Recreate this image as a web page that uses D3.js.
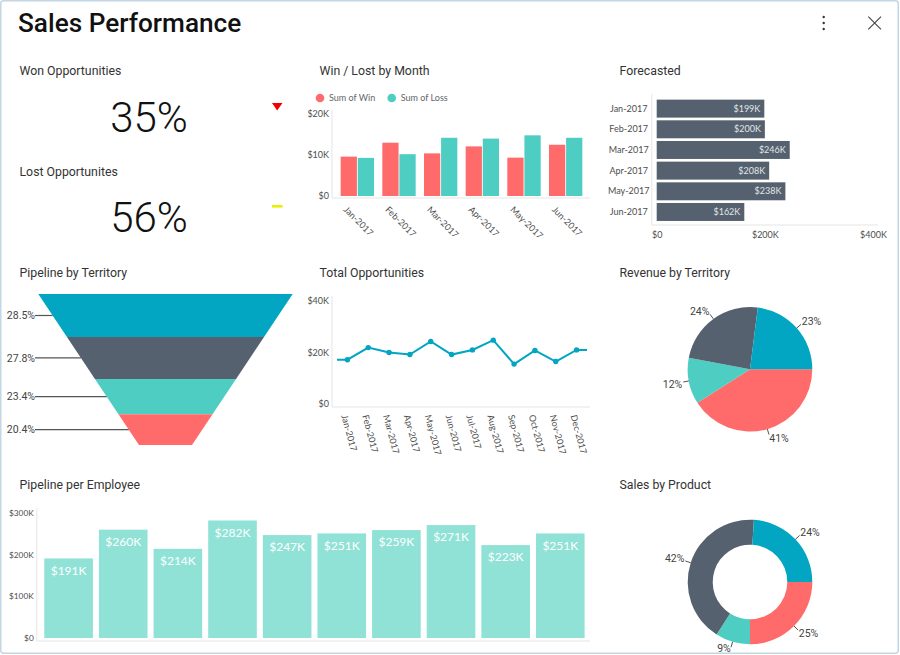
<!DOCTYPE html>
<html>
<head>
<meta charset="utf-8">
<script src="https://cdn.jsdelivr.net/npm/d3@7"></script>
<style>
  html, body { margin: 0; padding: 0; background: #fff; }
  svg { display: block; }
  text { font-family: Lato, sans-serif; fill: #4d4d4d; }
  .title { font-family: Roboto, sans-serif; font-size: 12.3px; fill: #333; }
  .tick text { font-size: 9px; }
  .pct { font-family: Roboto, sans-serif; font-size: 10.5px; fill: #444; }
</style>
</head>
<body>
<div id="chart"></div>
<script>
// colours used by the dashboard
let blue = "#02a5c2";
let grey = "#55616f";
let teal = "#4ecdc3";
let red = "#ff6b6b";
let paleTeal = "#90e2d6";
let axisColor = "#eeeeee";

// KPI cards
let kpiTitles = ["Won Opportunities", "Lost Opportunites"];
let kpiValues = ["35%", "56%"];

// Win / Lost by Month (values in $K)
let winMonths = ["Jan-2017", "Feb-2017", "Mar-2017", "Apr-2017", "May-2017", "Jun-2017"];
let winValues = [9.6, 13, 10.4, 12.1, 9.35, 12.5];
let lossValues = [9.3, 10.2, 14.2, 14, 14.8, 14.2];
let winTicks = [0, 10, 20];

// Forecasted (values in $K)
let forecastValues = [199, 200, 246, 208, 238, 162];
let forecastTicks = [0, 200, 400];

// Pipeline by Territory
let funnelValues = [28.5, 27.8, 23.4, 20.4];

// Total Opportunities (values in $K)
let totalMonths = ["Jan-2017", "Feb-2017", "Mar-2017", "Apr-2017", "May-2017", "Jun-2017",
  "Jul-2017", "Aug-2017", "Sep-2017", "Oct-2017", "Nov-2017", "Dec-2017"];
let totalValues = [17.2, 21.9, 20, 19.2, 24.3, 19.2, 21, 24.8, 15.5, 20.8, 16.5, 21];
let totalTicks = [0, 20, 40];

// Revenue by Territory, clockwise from 3 o'clock
let revenueValues = [41, 12, 24, 23];

// Pipeline per Employee (values in $K)
let employees = ["e1", "e2", "e3", "e4", "e5", "e6", "e7", "e8", "e9", "e10"];
let employeeValues = [191, 260, 214, 282, 247, 251, 259, 271, 223, 251];
let employeeTicks = [0, 100, 200, 300];

// Sales by Product, clockwise from 3 o'clock
let productValues = [25, 9, 42, 24];

let pieColors = [red, teal, grey, blue];
let money = d => d === 0 ? "$0" : `$${d}K`;

let svg = d3.select("#chart").append("svg")
  .attr("width", 900)
  .attr("height", 655);

// window frame
svg.append("rect")
  .attr("x", 0.75).attr("y", 0.75)
  .attr("width", 897.5).attr("height", 652.5)
  .attr("rx", 3)
  .attr("fill", "#fff")
  .attr("stroke", "#c4d6e4")
  .attr("stroke-width", 1.5);

svg.append("text")
  .attr("x", 18).attr("y", 32)
  .style("font-family", "Roboto, sans-serif")
  .style("font-weight", 500)
  .style("font-size", "26.2px")
  .style("fill", "#111")
  .text("Sales Performance");

// menu dots and close icon
d3.range(3).forEach(i => {
  svg.append("circle").attr("cx", 823.7).attr("cy", 17 + i * 6).attr("r", 1.2).attr("fill", "#333");
});
svg.append("path")
  .attr("d", "M868.3,16.7L881,29.3M881,16.7L868.3,29.3")
  .attr("stroke", "#444").attr("stroke-width", 1.1).attr("fill", "none");

function cardTitle(x, y, label) {
  svg.append("text").attr("class", "title").attr("x", x).attr("y", y).text(label);
}

// style shared by all the axes: no ticks, a pale line instead of the domain
function cleanAxis(g) {
  g.select(".domain").remove();
  g.selectAll("line").remove();
}

function axisLine(x1, y1, x2, y2) {
  svg.append("line")
    .attr("x1", x1).attr("y1", y1).attr("x2", x2).attr("y2", y2)
    .attr("stroke", axisColor).attr("stroke-width", 1.5);
}

// ---- KPI cards ----
cardTitle(19.5, 75, kpiTitles[0]);
cardTitle(19.5, 176, kpiTitles[1]);
[[132, kpiValues[0]], [232, kpiValues[1]]].forEach(k => {
  svg.append("text")
    .attr("x", 149).attr("y", k[0])
    .attr("text-anchor", "middle")
    .style("font-family", "Roboto, sans-serif")
    .style("font-weight", 300)
    .style("font-size", "42px")
    .style("fill", "#111")
    .text(k[1]);
});
svg.append("path").attr("d", "M272,103H282.5L277.2,110.5Z").attr("fill", "#f00000");
svg.append("rect").attr("x", 272).attr("y", 205).attr("width", 10.5).attr("height", 2.6).attr("fill", "#e8f000");

// ---- Win / Lost by Month ----
cardTitle(319.5, 75, "Win / Lost by Month");

[["Sum of Win", red, 320], ["Sum of Loss", teal, 391.7]].forEach(l => {
  svg.append("circle").attr("cx", l[2]).attr("cy", 98).attr("r", 4.3).attr("fill", l[1]);
  svg.append("text").attr("x", l[2] + 9).attr("y", 101.2).style("font-size", "9px").style("fill", "#666").text(l[0]);
});

let winX = d3.scaleBand().domain(winMonths).range([336.5, 586.5]).paddingInner(0.2).paddingOuter(0.1);
let winInner = d3.scaleBand().domain(["win", "loss"]).range([0, winX.bandwidth()]).paddingInner(0.05);
let winY = d3.scaleLinear().domain([0, 20]).range([196, 114]);

axisLine(332, 110, 332, 198);
axisLine(332, 198, 590, 198);

svg.append("g")
  .attr("transform", "translate(332,0)")
  .call(d3.axisLeft(winY).tickValues(winTicks).tickFormat(money).tickSize(0).tickPadding(3))
  .call(cleanAxis);

svg.append("g")
  .attr("transform", "translate(0,198)")
  .call(d3.axisBottom(winX).tickSize(0))
  .call(cleanAxis)
  .selectAll("text")
  .attr("x", 0).attr("y", 0).attr("dy", ".35em")
  .attr("text-anchor", "start")
  .attr("transform", "translate(-12,10) rotate(45)");

[["win", winValues, red], ["loss", lossValues, teal]].forEach(s => {
  svg.append("g").selectAll("rect")
    .data(s[1])
    .enter()
    .append("rect")
    .attr("x", (d, i) => winX(winMonths[i]) + winInner(s[0]))
    .attr("y", d => winY(d))
    .attr("width", winInner.bandwidth())
    .attr("height", d => winY(0) - winY(d))
    .attr("fill", s[2]);
});

// ---- Forecasted ----
cardTitle(619.5, 75, "Forecasted");

let foreX = d3.scaleLinear().domain([0, 400]).range([656.7, 873]);
let foreY = d3.scaleBand().domain(winMonths).range([98.3, 222.3]).paddingInner(0.13).paddingOuter(0.065);

axisLine(651.7, 94, 651.7, 225);
axisLine(651.7, 225, 878, 225);

svg.append("g")
  .attr("transform", "translate(651.7,0)")
  .call(d3.axisLeft(foreY).tickSize(0))
  .call(cleanAxis)
  .selectAll("text")
  .attr("x", -23)
  .attr("text-anchor", "middle");

svg.append("g")
  .attr("transform", "translate(0,225)")
  .call(d3.axisBottom(foreX).tickValues(forecastTicks).tickFormat(money).tickSize(0).tickPadding(7))
  .call(cleanAxis);

svg.append("g").selectAll("rect")
  .data(forecastValues)
  .enter()
  .append("rect")
  .attr("x", foreX(0))
  .attr("y", (d, i) => foreY(winMonths[i]))
  .attr("width", d => foreX(d) - foreX(0))
  .attr("height", foreY.bandwidth())
  .attr("fill", grey);

svg.append("g").selectAll("text")
  .data(forecastValues)
  .enter()
  .append("text")
  .attr("x", d => foreX(d) - 4)
  .attr("y", (d, i) => foreY(winMonths[i]) + foreY.bandwidth() / 2)
  .attr("dy", ".35em")
  .attr("text-anchor", "end")
  .style("font-size", "9px")
  .style("fill", "#e2e5e8")
  .text(money);

// ---- Pipeline by Territory ----
cardTitle(19.5, 277, "Pipeline by Territory");

let funnelTotal = d3.sum(funnelValues);
let funnelY = d3.scaleLinear().domain([0, funnelTotal]).range([294, 445]);
let funnelW = d3.scaleLinear().domain([0, funnelTotal]).range([254.4, 53]);
let funnelMid = 165.5;
let funnelColors = [blue, grey, teal, red];
let trapezoid = d3.line();

let running = 0;
funnelValues.forEach((v, i) => {
  let a = running;
  let b = running + v;
  running = b;
  let left = s => funnelMid - funnelW(s) / 2;
  let right = s => funnelMid + funnelW(s) / 2;
  svg.append("path")
    .attr("d", trapezoid([
      [left(a), funnelY(a)], [right(a), funnelY(a)],
      [right(b), funnelY(b)], [left(b), funnelY(b)]
    ]) + "Z")
    .attr("fill", funnelColors[i]);
  let m = (a + b) / 2;
  svg.append("line")
    .attr("x1", 35).attr("x2", left(m))
    .attr("y1", funnelY(m)).attr("y2", funnelY(m))
    .attr("stroke", "#555").attr("stroke-width", 1.2);
  svg.append("text")
    .attr("class", "pct")
    .attr("x", 35).attr("y", funnelY(m))
    .attr("dy", ".35em")
    .attr("text-anchor", "end")
    .text(v.toFixed(1) + "%");
});

// ---- Total Opportunities ----
cardTitle(319.5, 277, "Total Opportunities");

let totalX = d3.scaleBand().domain(totalMonths).range([337, 587]);
let totalY = d3.scaleLinear().domain([0, 40]).range([404, 301]);

axisLine(332, 296, 332, 407);
axisLine(332, 407, 590, 407);

svg.append("g")
  .attr("transform", "translate(332,0)")
  .call(d3.axisLeft(totalY).tickValues(totalTicks).tickFormat(money).tickSize(0).tickPadding(3))
  .call(cleanAxis);

svg.append("g")
  .attr("transform", "translate(0,407)")
  .call(d3.axisBottom(totalX).tickSize(0))
  .call(cleanAxis)
  .selectAll("text")
  .attr("x", 0).attr("y", 0).attr("dy", ".35em")
  .attr("text-anchor", "start")
  .attr("transform", "translate(-3,8) rotate(75)");

let totalCenter = m => totalX(m) + totalX.bandwidth() / 2;
// line runs out to the band edges at both ends
let totalPoints = totalMonths.map((m, i) => [totalCenter(m), totalY(totalValues[i])]);
totalPoints.unshift([totalX.range()[0], totalPoints[0][1]]);
totalPoints.push([totalX.range()[1], totalPoints[totalPoints.length - 1][1]]);

svg.append("path")
  .attr("d", d3.line()(totalPoints))
  .attr("fill", "none")
  .attr("stroke", blue)
  .attr("stroke-width", 2);

svg.append("g").selectAll("circle")
  .data(totalValues)
  .enter()
  .append("circle")
  .attr("cx", (d, i) => totalCenter(totalMonths[i]))
  .attr("cy", d => totalY(d))
  .attr("r", 2.7)
  .attr("fill", blue);

// ---- pies ----
function drawPie(values, cx, cy, innerRadius) {
  let outerRadius = 62.3;
  let pie = d3.pie().sort(null).startAngle(Math.PI / 2).endAngle(Math.PI * 2.5);
  let arc = d3.arc().innerRadius(innerRadius).outerRadius(outerRadius);
  let g = svg.append("g").attr("transform", `translate(${cx},${cy})`);
  let slices = pie(values);

  g.selectAll("path")
    .data(slices)
    .enter()
    .append("path")
    .attr("d", arc)
    .attr("fill", (d, i) => pieColors[i]);

  slices.forEach(d => {
    let mid = (d.startAngle + d.endAngle) / 2;
    let dirX = Math.sin(mid);
    let dirY = -Math.cos(mid);
    // labels sit past the leader, but stay above the bottom of the window
    let labelY = dirY * 69 + (dirY < 0 ? -2 : 2.5);
    labelY = Math.min(labelY, 648.5 - cy);
    g.append("line")
      .attr("x1", dirX * outerRadius).attr("y1", dirY * outerRadius)
      .attr("x2", dirX * 68).attr("y2", dirY * 68)
      .attr("stroke", "#555").attr("stroke-width", 1);
    g.append("text")
      .attr("class", "pct")
      .attr("x", dirX * 69)
      .attr("y", labelY)
      .attr("dy", ".35em")
      .attr("text-anchor", dirX > 0 ? "start" : "end")
      .text(d.data + "%");
  });
}

cardTitle(619.5, 277, "Revenue by Territory");
drawPie(revenueValues, 750, 369.3, 0);

cardTitle(619.5, 489, "Sales by Product");
drawPie(productValues, 750, 582, 37.3);

// ---- Pipeline per Employee ----
cardTitle(19.5, 489, "Pipeline per Employee");

let empX = d3.scaleBand().domain(employees).range([44.3, 584.6]).paddingInner(0.11).paddingOuter(0);
let empY = d3.scaleLinear().domain([0, 300]).range([638, 513]);

axisLine(36.7, 508, 36.7, 641);
axisLine(36.7, 641, 590, 641);

svg.append("g")
  .attr("transform", "translate(36.7,0)")
  .call(d3.axisLeft(empY).tickValues(employeeTicks).tickFormat(money).tickSize(0).tickPadding(3))
  .call(cleanAxis)
  .selectAll("text")
  .style("font-size", "8.3px");

svg.append("g").selectAll("rect")
  .data(employeeValues)
  .enter()
  .append("rect")
  .attr("x", (d, i) => empX(employees[i]))
  .attr("y", d => empY(d))
  .attr("width", empX.bandwidth())
  .attr("height", d => empY(0) - empY(d))
  .attr("fill", paleTeal);

svg.append("g").selectAll("text")
  .data(employeeValues)
  .enter()
  .append("text")
  .attr("x", (d, i) => empX(employees[i]) + empX.bandwidth() / 2)
  .attr("y", d => empY(d) + 12)
  .attr("dy", ".35em")
  .attr("text-anchor", "middle")
  .style("font-size", "12px")
  .style("fill", "#fff")
  .text(money);
</script>
</body>
</html>
